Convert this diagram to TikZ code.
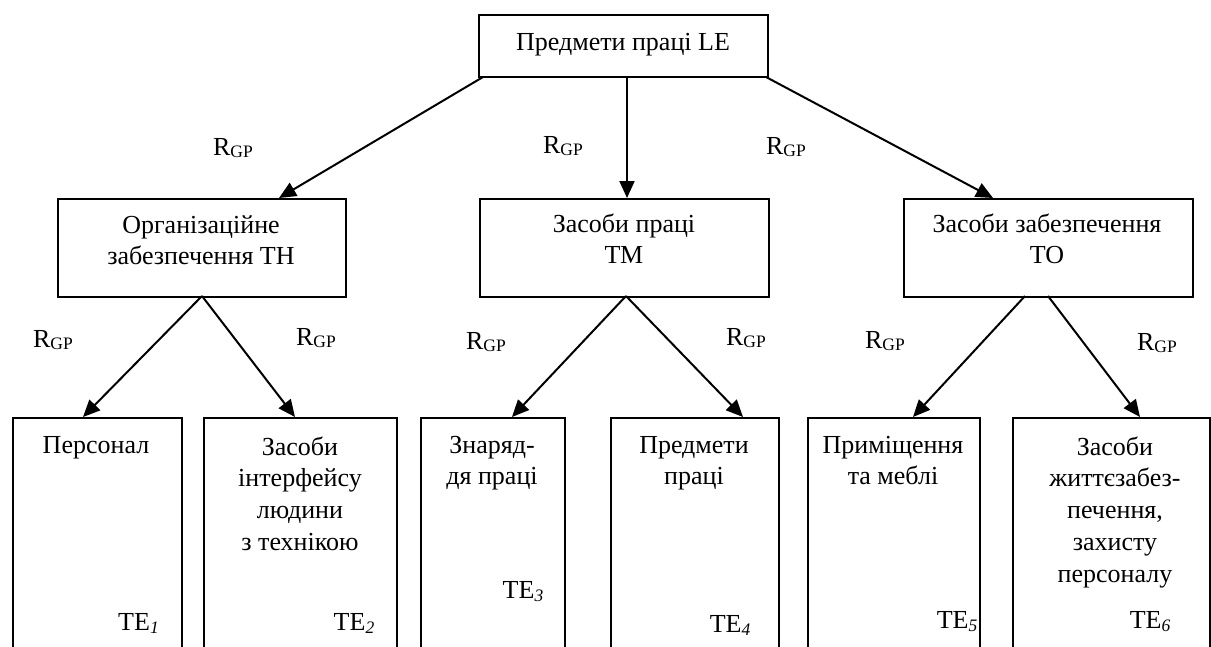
\documentclass[tikz,border=0pt]{standalone}
\usepackage{fontspec}
\setmainfont{Liberation Serif}
\usetikzlibrary{arrows.meta}
\newcommand\fs{\fontsize{26}{31.8}\selectfont}
\newcommand\rgp{R\raisebox{-2.5pt}{\fontsize{17.5}{18}\selectfont GP}}
\newcommand\tesub[1]{TE\raisebox{-3pt}{\fontsize{17.5}{18}\selectfont\itshape #1}}
\begin{document}
\begin{tikzpicture}[x=1pt,y=-1pt,
  boxst/.style={draw, line width=2pt, inner sep=0pt, anchor=north west},
  txt/.style={align=center, inner sep=0pt, font=\fs},
  arr/.style={-{Triangle[length=17pt,width=15pt]}, line width=2pt},
  lbl/.style={inner sep=0pt, font=\fs, anchor=base}]
\clip (0,0) rectangle (1211,646);
\fill[white] (0,0) rectangle (1211,646);
% top
\node[boxst, minimum width=289pt, minimum height=62pt] (top) at (478,14) {};
\node[lbl] (ttop) at (623,50) {Предмети праці LE};
% middle row
\node[boxst, minimum width=288pt, minimum height=98pt] (mL) at (57,198) {};
\node[boxst, minimum width=289pt, minimum height=98pt] (mM) at (479,198) {};
\node[boxst, minimum width=289pt, minimum height=98pt] (mR) at (903,198) {};
\node[txt, anchor=north] (tmL) at (201,210.7) {\strut Організаційне\\забезпечення ТН};
\node[txt, anchor=north] (tmM) at (624,209.7) {\strut Засоби праці\\ТМ};
\node[txt, anchor=north] (tmR) at (1047,209.7) {\strut Засоби забезпечення\\ТО};
% bottom row
\node[boxst, minimum width=169pt, minimum height=260pt] (b1) at (12,417) {};
\node[boxst, minimum width=193pt, minimum height=260pt] (b2) at (203,417) {};
\node[boxst, minimum width=144pt, minimum height=260pt] (b3) at (420,417) {};
\node[boxst, minimum width=168pt, minimum height=260pt] (b4) at (610,417) {};
\node[boxst, minimum width=172pt, minimum height=260pt] (b5) at (807,417) {};
\node[boxst, minimum width=197pt, minimum height=260pt] (b6) at (1012,417) {};
\node[lbl] (tb1) at (96,453) {Персонал};
\node[txt, anchor=north] (tb2) at (300,432.7) {\strut Засоби\\інтерфейсу\\людини\\з технікою};
\node[txt, anchor=north] (tb3) at (492,430.7) {\strut Знаряд-\\дя праці};
\node[txt, anchor=north] (tb4) at (694,430.7) {\strut Предмети\\праці};
\node[txt, anchor=north] (tb5) at (893,430.7) {\strut Приміщення\\та меблі};
\node[txt, anchor=north] (tb6) at (1115,432.7) {\strut Засоби\\життєзабез-\\печення,\\захисту\\персоналу};
\node[lbl] (te1) at (138.5,630) {\tesub{1}};
\node[lbl] (te2) at (354,630) {\tesub{2}};
\node[lbl] (te3) at (523,598) {\tesub{3}};
\node[lbl] (te4) at (730,632) {\tesub{4}};
\node[lbl] (te5) at (957,628) {\tesub{5}};
\node[lbl] (te6) at (1150,628) {\tesub{6}};
% connector points
\coordinate (pTL) at (483,77);
\coordinate (pTM) at (627,76);
\coordinate (pTR) at (766,77);
\coordinate (eL) at (279,198);
\coordinate (eM) at (627,198);
\coordinate (eR) at (993,198);
\coordinate (sL) at (202,296);
\coordinate (sM) at (626,296);
\coordinate (sR1) at (1025,296);
\coordinate (sR2) at (1048,296);
\coordinate (e1) at (83,417);
\coordinate (e2) at (295,417);
\coordinate (e3) at (512,417);
\coordinate (e4) at (743,417);
\coordinate (e5) at (913,417);
\coordinate (e6) at (1140,417);
\draw[arr] (pTL) -- (eL);
\draw[arr] (pTM) -- (eM);
\draw[arr] (pTR) -- (eR);
\draw[arr] (sL) -- (e1);
\draw[arr] (sL) -- (e2);
\draw[arr] (sM) -- (e3);
\draw[arr] (sM) -- (e4);
\draw[arr] (sR1) -- (e5);
\draw[arr] (sR2) -- (e6);
% labels
\node[lbl] (r1) at (233,155) {\rgp};
\node[lbl] (r2) at (563,153) {\rgp};
\node[lbl] (r3) at (786,154) {\rgp};
\node[lbl] (r4) at (53,347) {\rgp};
\node[lbl] (r5) at (316,345) {\rgp};
\node[lbl] (r6) at (486,349) {\rgp};
\node[lbl] (r7) at (746,345) {\rgp};
\node[lbl] (r8) at (885,348) {\rgp};
\node[lbl] (r9) at (1157,350) {\rgp};
\end{tikzpicture}
\end{document}
